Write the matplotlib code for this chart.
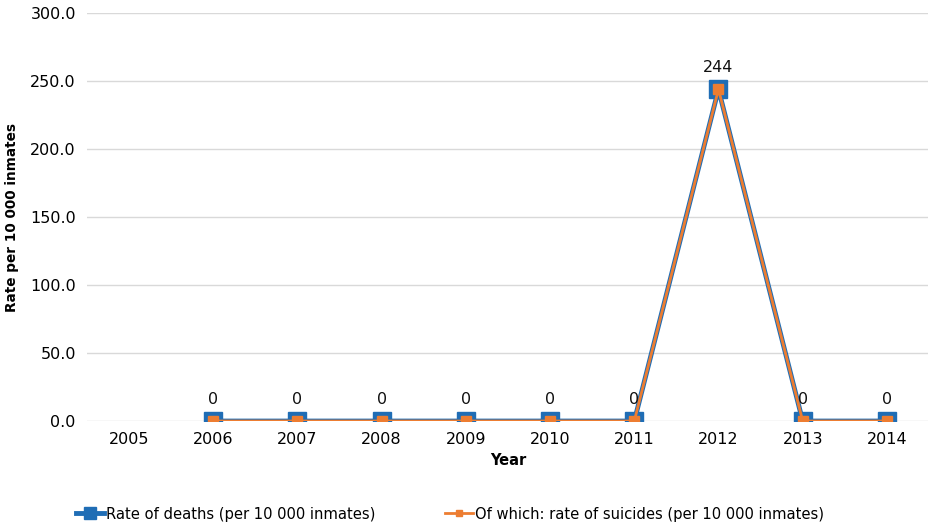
import numpy as np
import matplotlib.pyplot as plt

years = ["2005", "2006", "2007", "2008", "2009", "2010", "2011", "2012", "2013", "2014"]
deaths_rate = [np.nan, 0, 0, 0, 0, 0, 0, 244, 0, 0]
suicide_rate = [np.nan, 0, 0, 0, 0, 0, 0, 244, 0, 0]
y_ticks = [0, 50, 100, 150, 200, 250, 300]

blue = "#1f6db5"
orange = "#ed7d31"

fig = plt.figure(figsize=(9.29, 5.25), dpi=100)
ax = fig.add_axes([0.0936, 0.198, 0.9064, 0.777])

x = np.arange(len(years))
ax.plot(x, deaths_rate, color=blue, lw=3.5, marker="s", ms=13.5,
        mfc=blue, mec=blue, label="Rate of deaths (per 10 000 inmates)", zorder=3)
ax.plot(x, suicide_rate, color=orange, lw=2, marker="s", ms=6.5,
        mfc=orange, mec=orange, label="Of which: rate of suicides (per 10 000 inmates)", zorder=4)

for xi, v in zip(x, deaths_rate):
    if np.isnan(v):
        continue
    ax.annotate(f"{v:.0f}", (xi, v), xytext=(0, 10), textcoords="offset points",
                ha="center", va="bottom", fontsize=11.5, color="#111111")

ax.set_xlim(-0.5, len(years) - 0.5)
ax.set_ylim(0, 300)
ax.set_yticks(y_ticks)
ax.set_yticklabels([f"{t:.1f}" for t in y_ticks], fontsize=11.5)
ax.set_xticks(x)
ax.set_xticklabels(years, fontsize=11.5)
ax.tick_params(length=0, pad=8)
ax.grid(axis="y", color="#d9d9d9", lw=1)
ax.set_axisbelow(True)
for s in ax.spines.values():
    s.set_visible(False)

ax.set_xlabel("Year", fontsize=10.5, fontweight="bold", labelpad=4)
ax.set_ylabel("Rate per 10 000 inmates", fontsize=9.8, fontweight="bold")
ax.yaxis.set_label_coords(-0.081, 0.5)

fig.legend(loc="lower left", bbox_to_anchor=(0.066, -0.022), ncol=2, frameon=False,
           handlelength=1.7, handletextpad=0.1, columnspacing=4.3, markerscale=0.65,
           prop={"stretch": "condensed", "size": 11.8})

fig.savefig("out.png", dpi=100)
